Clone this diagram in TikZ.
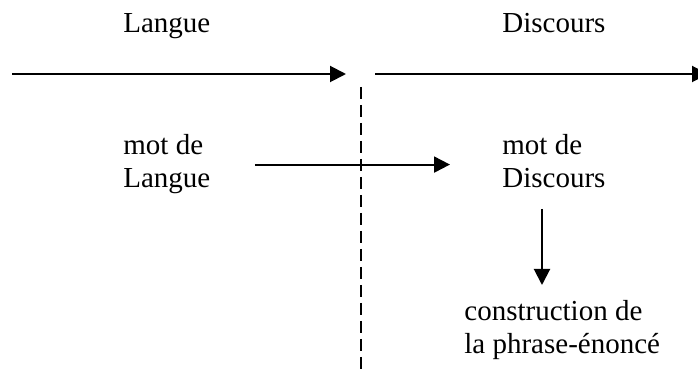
\documentclass[tikz,border=0pt]{standalone}
\usepackage{fontspec}
\setmainfont{Liberation Serif}
\usetikzlibrary{arrows.meta}

\begin{document}
\begin{tikzpicture}[x=0.5pt,y=-0.5pt,
    txt/.style={font=\fontsize{14.5}{16.5}\selectfont, inner sep=0pt, align=left, anchor=base west},
    arr/.style={line width=1pt, -{Triangle[length=8pt,width=8pt]}}]
  \useasboundingbox (0,0) rectangle (698,374);

  \node[txt] (lang) at (123,33) { Langue };
  \node[txt] (disc) at (502,33) { Discours };

  \coordinate (aL) at (12,74);
  \coordinate (bL) at (346,74);
  \coordinate (aR) at (375,74);
  \coordinate (bR) at (708,74);
  \draw[arr] (aL) -- (bL);
  \draw[arr] (aR) -- (bR);

  \coordinate (dTop) at (361,87);
  \coordinate (dBot) at (361,372);
  \draw[line width=0.7pt, dash pattern=on 6pt off 3pt] (dTop) -- (dBot);

  \node[txt] (motL) at (123,188) { mot de\\Langue };
  \node[txt] (motD) at (502,188) { mot de\\Discours };
  \node[txt] (cons) at (464,354) { construction de\\la phrase-énoncé };

  \draw[arr, shorten <=22pt, shorten >=26pt] (motL.east) -- (motL.east -| motD.west);
  \coordinate (vA) at (542,209);
  \coordinate (vB) at (542,285);
  \draw[arr] (vA) -- (vB);
\end{tikzpicture}
\end{document}
